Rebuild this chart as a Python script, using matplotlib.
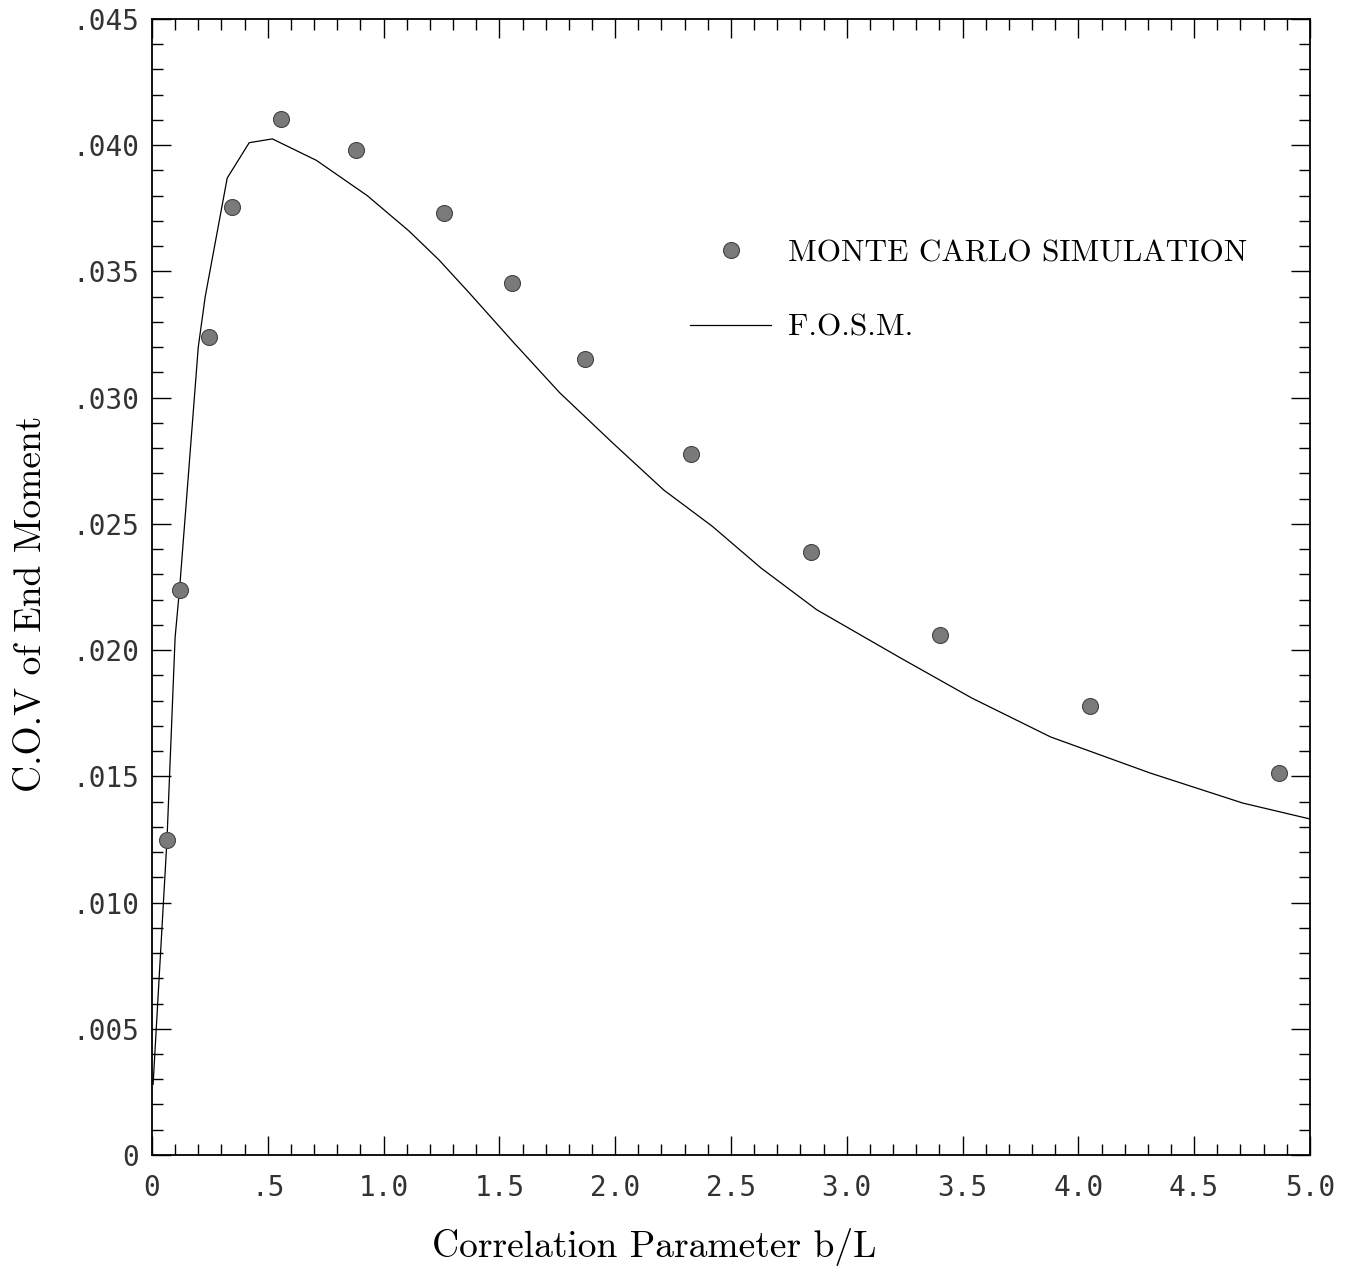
import numpy as np
import matplotlib
matplotlib.use("Agg")
import matplotlib.pyplot as plt
from matplotlib.ticker import MultipleLocator, FuncFormatter

# Monte Carlo simulation points
mc_b = [0.065, 0.121, 0.246, 0.345, 0.557, 0.881, 1.26, 1.554, 1.87,
        2.327, 2.845, 3.402, 4.05, 4.866]
mc_cov = [0.01248, 0.02238, 0.0324, 0.03755, 0.04104, 0.03981, 0.03732,
          0.03454, 0.03153, 0.02777, 0.02389, 0.0206, 0.01779, 0.01513]

# F.O.S.M. curve
fosm_b = [0.005, 0.065, 0.10, 0.12, 0.20, 0.23, 0.325, 0.42, 0.52, 0.71,
          0.93, 1.11, 1.24, 1.37, 1.56, 1.76, 1.99, 2.21, 2.42, 2.63,
          2.87, 3.23, 3.54, 3.88, 4.31, 4.71, 5.0]
fosm_cov = [0.0028, 0.0125, 0.0205, 0.0225, 0.0320, 0.0340, 0.0387, 0.0401,
            0.04025, 0.0394, 0.0380, 0.0366, 0.03545, 0.03415, 0.0322,
            0.0302, 0.0282, 0.02634, 0.0249, 0.02325, 0.0216, 0.0197,
            0.0181, 0.01656, 0.01513, 0.01394, 0.01331]

serif = "cmr10"
tickfont = "DejaVu Sans Mono"

fig = plt.figure(figsize=(13.47, 12.66), dpi=100)
ax = fig.add_axes([0.1128, 0.0877, 0.8597, 0.8973])

ax.plot(fosm_b, fosm_cov, color="black", linewidth=0.9, label="F.O.S.M.")
ax.plot(mc_b, mc_cov, linestyle="none", marker="o", markersize=11.5,
        markerfacecolor="#7a7a7a", markeredgecolor="#444444",
        markeredgewidth=0.8, label="MONTE CARLO SIMULATION")

ax.set_xlim(0, 5.0)
ax.set_ylim(0, 0.045)

ax.xaxis.set_major_locator(MultipleLocator(0.5))
ax.xaxis.set_minor_locator(MultipleLocator(0.1))
ax.yaxis.set_major_locator(MultipleLocator(0.005))
ax.yaxis.set_minor_locator(MultipleLocator(0.001))


def fmt_x(v, pos):
    if abs(v) < 1e-9:
        return "0"
    if v < 1:
        return ("%.1f" % v).lstrip("0")
    return "%.1f" % v


def fmt_y(v, pos):
    if abs(v) < 1e-12:
        return "0"
    return ("%.3f" % v).lstrip("0")


ax.xaxis.set_major_formatter(FuncFormatter(fmt_x))
ax.yaxis.set_major_formatter(FuncFormatter(fmt_y))

ax.tick_params(which="both", direction="in", top=True, right=True,
               width=1.0, color="black")
ax.tick_params(which="major", length=14)
ax.tick_params(which="minor", length=8)
ax.tick_params(axis="x", which="major", pad=14)
ax.tick_params(axis="y", which="major", pad=9)
for lab in ax.get_xticklabels() + ax.get_yticklabels():
    lab.set_fontfamily(tickfont)
    lab.set_fontsize(20)
    lab.set_color("#333333")

for sp in ax.spines.values():
    sp.set_linewidth(1.3)

ax.set_xlabel("Correlation Parameter b/L", fontfamily=serif, fontsize=27)
ax.xaxis.set_label_coords(0.4335, -0.064)
ax.set_ylabel("C.O.V of End Moment", fontfamily=serif, fontsize=27)
ax.yaxis.set_label_coords(-0.090, 0.485)

handles, labels = ax.get_legend_handles_labels()
leg = ax.legend(handles[::-1], labels[::-1], loc="upper left",
                bbox_to_anchor=(0.4646, 0.806), frameon=False,
                prop={"family": serif, "size": 22.5}, handlelength=2.6,
                handletextpad=0.54, labelspacing=1.49, borderpad=0,
                borderaxespad=0)

fig.savefig("out.png", dpi=100)
